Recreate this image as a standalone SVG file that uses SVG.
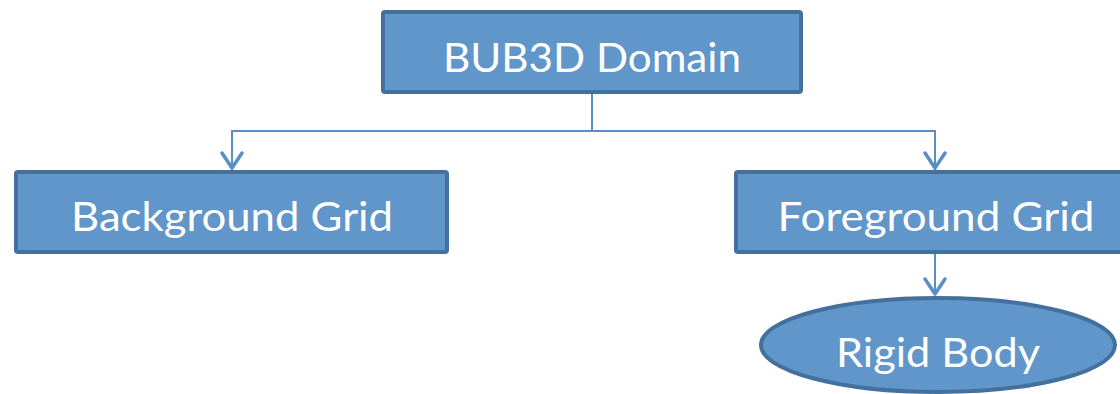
<svg xmlns="http://www.w3.org/2000/svg" width="1120" height="394" viewBox="0 0 1120 394">
<style>
.box{fill:#6096CA;stroke:#44709D;stroke-width:4}
.lbl{font-family:Lato,"Open Sans",sans-serif;font-size:40px;fill:#FFFFFF;text-anchor:middle}
.conn{fill:none;stroke:#5B8EC6;stroke-width:2}
.head{fill:none;stroke:#5B8EC6;stroke-width:3.5;stroke-linecap:round;stroke-linejoin:round}
</style>
<rect width="1120" height="394" fill="#FFFFFF"/>
<g id="connectors">
<polyline class="conn" points="592,93 592,131"/>
<polyline class="conn" points="232,170 232,131 935,131 935,170"/>
<polyline class="head" points="222,153 232,168 242,153"/>
<polyline class="head" points="925,153 935,168 945,153"/>
<polyline class="conn" points="935,253 935,295"/>
<polyline class="head" points="925,279 935,294 945,279"/>
</g>
<g id="bub3d">
<rect class="box" x="383" y="12" width="418" height="80" rx="2"/>
<text class="lbl" x="592" y="72" textLength="298" lengthAdjust="spacingAndGlyphs">BUB3D Domain</text>
</g>
<g id="background">
<rect class="box" x="16" y="172" width="431" height="80" rx="2"/>
<text class="lbl" x="232" y="231" textLength="322" lengthAdjust="spacingAndGlyphs">Background Grid</text>
</g>
<g id="foreground">
<rect class="box" x="736" y="172" width="400" height="80" rx="2"/>
<text class="lbl" x="936" y="231" textLength="317" lengthAdjust="spacingAndGlyphs">Foreground Grid</text>
</g>
<g id="rigid">
<ellipse class="box" cx="938" cy="345" rx="177" ry="47"/>
<text class="lbl" x="938" y="367" textLength="204" lengthAdjust="spacingAndGlyphs">Rigid Body</text>
</g>
</svg>
